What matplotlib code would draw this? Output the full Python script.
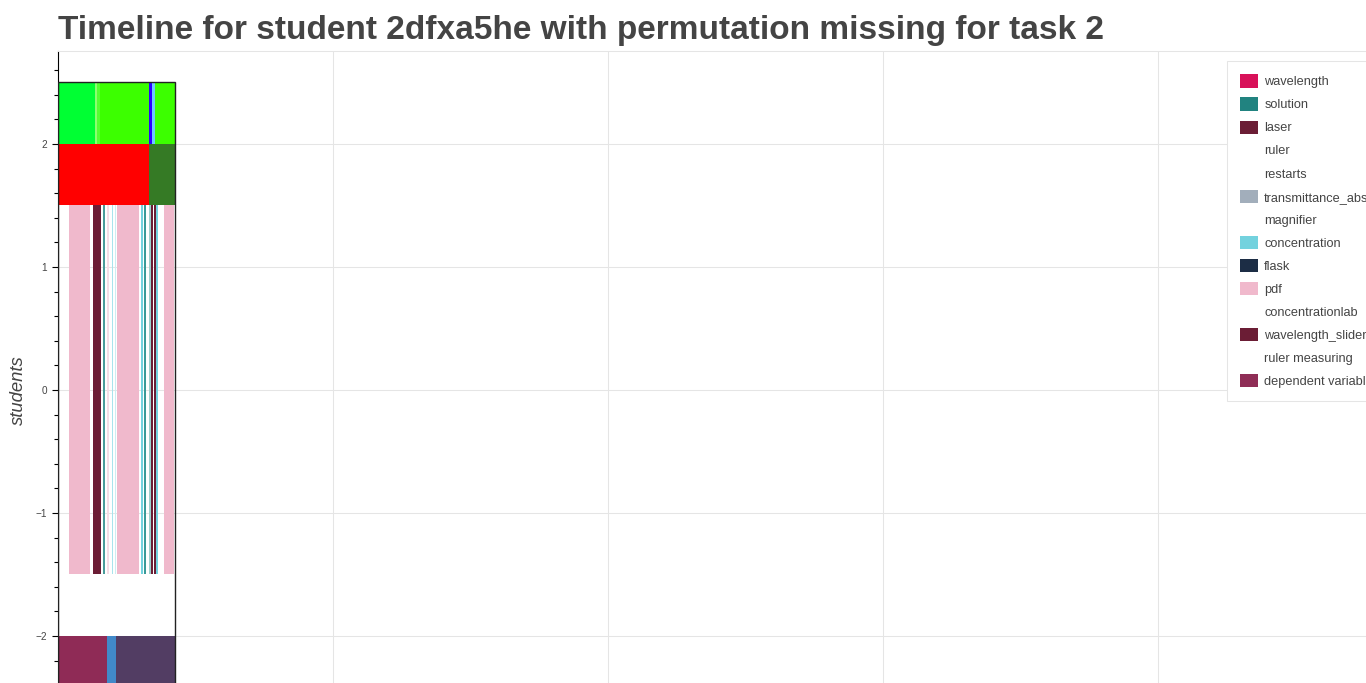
import matplotlib
matplotlib.use("Agg")
import matplotlib.pyplot as plt
from matplotlib.patches import Patch, Rectangle
from matplotlib.ticker import MultipleLocator

plt.rcParams['font.family'] = ['Liberation Sans', 'DejaVu Sans']

title = "Timeline for student 2dfxa5he with permutation missing for task 2"
ylabel = "students"

# ---- data (time units, rows on the student axis) ----
row1_y = [2.0, 2.5]
row1_start = [0.000, 0.135, 0.142, 0.153, 0.331, 0.343, 0.353]
row1_end = [0.135, 0.142, 0.153, 0.331, 0.343, 0.353, 0.425]
row1_colors = ['#00ff33', '#8cff70', '#55ff30', '#3cff00', '#2a00ff', '#6cc8ff', '#3cff00']

row2_y = [1.5, 2.0]
row2_start = [0.000, 0.331]
row2_end = [0.331, 0.425]
row2_colors = ['#ff0000', '#357a25']

row3_y = [-1.5, 1.5]
row3_start = [0.040, 0.128, 0.1625, 0.179, 0.196, 0.208, 0.216, 0.301, 0.313, 0.332, 0.337, 0.349, 0.356, 0.385]
row3_end = [0.116, 0.157, 0.172, 0.184, 0.201, 0.212, 0.295, 0.308, 0.320, 0.337, 0.344, 0.356, 0.364, 0.422]
row3_colors = ['#f0b9cc', '#6b1d35', '#4a9c9a', '#f6dde6', '#a8e4ec', '#cdeef2', '#f0b9cc',
               '#73d2de', '#3a9a98', '#9ccfcc', '#6b1d35', '#6b1d35', '#73d2de', '#f0b9cc']

row4_y = [-2.5, -2.0]
row4_start = [0.000, 0.178, 0.212]
row4_end = [0.178, 0.212, 0.425]
row4_colors = ['#8f2b56', '#4189c9', '#523d63']

timeline_extent = [0.0, 0.425]
students_extent = [-2.5, 2.5]

legend_labels = ['wavelength', 'solution', 'laser', 'ruler', 'restarts', 'transmittance_absorbance',
                 'magnifier', 'concentration', 'flask', 'pdf', 'concentrationlab',
                 'wavelength_slider', 'ruler measuring', 'dependent variable']
legend_colors = ['#d81159', '#218380', '#6b1d35', 'none', 'none', '#a2aebb',
                 'none', '#73d2de', '#1c2d45', '#f0b9cc', 'none',
                 '#6b1d35', 'none', '#8f2d56']

# ---- figure ----
W, H = 1366, 683
fig = plt.figure(figsize=(W / 100, H / 100), dpi=100)
ax_left, ax_top, ax_right, ax_bottom = 58, 51, 1420, 751
ax = fig.add_axes([ax_left / W, 1 - ax_bottom / H, (ax_right - ax_left) / W, (ax_bottom - ax_top) / H])

for ys, starts, ends, colors in [(row1_y, row1_start, row1_end, row1_colors),
                                 (row2_y, row2_start, row2_end, row2_colors),
                                 (row3_y, row3_start, row3_end, row3_colors),
                                 (row4_y, row4_start, row4_end, row4_colors)]:
    widths = [e - s for s, e in zip(starts, ends)]
    ax.barh(y=(ys[0] + ys[1]) / 2, width=widths, left=starts, height=ys[1] - ys[0],
            color=colors, linewidth=0, zorder=2)

ax.add_patch(Rectangle((timeline_extent[0], students_extent[0]),
                       timeline_extent[1] - timeline_extent[0],
                       students_extent[1] - students_extent[0],
                       facecolor='none', edgecolor='#222222', linewidth=1.0, zorder=3))

y_top = 2.756
ax.set_xlim(0, (ax_right - ax_left) / 275)
ax.set_ylim(y_top - (ax_bottom - ax_top) / 123, y_top)

ax.xaxis.set_major_locator(MultipleLocator(1))
ax.yaxis.set_major_locator(MultipleLocator(1))
ax.yaxis.set_minor_locator(MultipleLocator(0.2))
ax.tick_params(axis='x', which='both', bottom=False, labelbottom=False)
ax.tick_params(axis='y', which='major', length=4.3, width=0.8, color='black',
               labelsize=7.2, labelcolor='#444444', pad=3.5)
ax.tick_params(axis='y', which='minor', length=2.9, width=0.8, color='black')
ax.grid(True, which='major', color='#e5e5e5', linewidth=0.75)
ax.set_axisbelow(True)

for s in ['right', 'bottom']:
    ax.spines[s].set_visible(False)
ax.spines['top'].set_color('#e5e5e5')
ax.spines['top'].set_linewidth(0.75)
ax.spines['left'].set_color('black')
ax.spines['left'].set_linewidth(0.8)

fig.text(ax_left / W, 1 - 39.5 / H, title, fontsize=24.0, fontweight='bold',
         color='#444444', ha='left', va='baseline')
fig.text(18 / W, 1 - 390 / H, ylabel, fontsize=13.3, fontstyle='italic',
         color='#444444', rotation=90, ha='center', va='center')

handles = [Patch(facecolor=c, edgecolor='none') for c in legend_colors]
leg = fig.legend(handles, legend_labels, loc='upper left',
                 bbox_to_anchor=(1227 / W, 1 - 61 / H), bbox_transform=fig.transFigure,
                 borderaxespad=0, fontsize=9.2, handlelength=1.36, handleheight=1.2,
                 handletextpad=0.5, labelspacing=0.72, borderpad=1.05,
                 frameon=True, fancybox=False, framealpha=1, edgecolor='#e5e5e5',
                 labelcolor='#444444')
leg.get_frame().set_linewidth(0.75)

fig.savefig('out.png', dpi=100)
